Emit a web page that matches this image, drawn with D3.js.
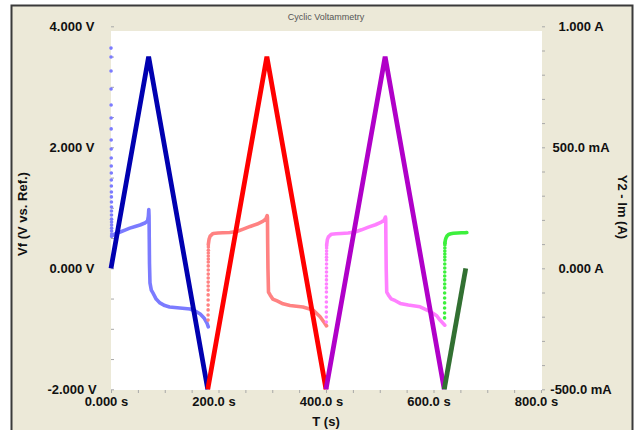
<!DOCTYPE html>
<html>
<head>
<meta charset="utf-8">
<script src="https://cdn.jsdelivr.net/npm/d3@7"></script>
<style>
  body { margin: 0; background: #fff; }
  svg { display: block; }
  text { font-family: "Liberation Sans", Arial, sans-serif; }
</style>
</head>
<body>
<svg id="chart" width="640" height="430"></svg>
<script>
// ---- axis ticks and labels ----
const timeTicks = [0, 200, 400, 600, 800];
const timeTickLabels = ["0.000 s", "200.0 s", "400.0 s", "600.0 s", "800.0 s"];
const voltTicks = [-2, 0, 2, 4];
const voltTickLabels = ["-2.000 V", "0.000 V", "2.000 V", "4.000 V"];
const currentTicks = [-0.5, 0, 0.5, 1];
const currentTickLabels = ["-500.0 mA", "0.000 A", "500.0 mA", "1.000 A"];
const timeMinorTicks = [0,50,100,150,200,250,300,350,400,450,500,550,600,650,700,750,800];
const voltMinorTicks = [-2,-1.5,-1,-0.5,0,0.5,1,1.5,2,2.5,3,3.5,4];
const currentMinorTicks = [-0.5,-0.4,-0.3,-0.2,-0.1,0,0.1,0.2,0.3,0.4,0.5,0.6,0.7,0.8,0.9,1];

// ---- applied potential (Vf) per cycle: vertex times (s) and potentials (V) ----
const cycleNames = ["Cycle 1", "Cycle 2", "Cycle 3", "Cycle 4"];
const vfTimes = [[0, 70, 180], [180, 290, 400], [400, 510, 620], [620, 660]];
const vfValues = [[0, 3.5, -2], [-2, 3.5, -2], [-2, 3.5, -2], [-2, 0]];

// ---- measured current (Im), [time s, current A] ----
// sparse samples right after each switching step
const imStepCycle1 = [[0.00,0.910],[0.05,0.873],[0.10,0.815],[0.15,0.741],[0.20,0.675],[0.25,0.621],[0.30,0.576],
  [0.35,0.530],[0.40,0.493],[0.45,0.456],[0.50,0.423],[0.55,0.394],[0.60,0.365],[0.65,0.340],[0.70,0.315],
  [0.75,0.295],[0.80,0.274],[0.85,0.253],[0.90,0.237],[0.95,0.220],[1.00,0.203],[1.05,0.191],[1.10,0.179],
  [1.15,0.166],[1.20,0.154],[1.25,0.142],[1.30,0.133]];
const imStepCycle2 = [[180.60,-0.214],[180.63,-0.193],[180.66,-0.172],[180.69,-0.152],[180.72,-0.131],[180.75,-0.110],
  [180.78,-0.090],[180.81,-0.073],[180.84,-0.057],[180.87,-0.040],[180.90,-0.024],[180.93,-0.007],[180.96,0.010],
  [180.99,0.026],[181.02,0.038],[181.05,0.051],[181.08,0.063],[181.11,0.075],[181.14,0.088],[181.17,0.096]];
const imStepCycle3 = [[400.60,-0.222],[400.63,-0.201],[400.66,-0.181],[400.69,-0.160],[400.72,-0.139],[400.75,-0.119],
  [400.78,-0.098],[400.81,-0.081],[400.84,-0.065],[400.87,-0.048],[400.90,-0.032],[400.93,-0.015],[400.96,0.001],
  [400.99,0.018],[401.02,0.034],[401.05,0.046],[401.08,0.059],[401.11,0.071],[401.14,0.084],[401.17,0.092]];
const imStepCycle4 = [[620.60,-0.205],[620.63,-0.185],[620.66,-0.164],[620.69,-0.143],[620.72,-0.123],[620.75,-0.102],
  [620.78,-0.081],[620.81,-0.065],[620.84,-0.048],[620.87,-0.032],[620.90,-0.015],[620.93,0.001],[620.96,0.018],
  [620.99,0.034],[621.02,0.047],[621.05,0.059],[621.08,0.071],[621.11,0.084],[621.14,0.096],[621.17,0.104]];
// dense part of each cycle
const imTraceCycle1 = [[1.3,0.133],[7,0.142],[17,0.150],[26,0.158],[35,0.166],[45,0.173],[54,0.179],[63,0.187],
  [68,0.196],[69.5,0.215],[70.3,0.243],[70.8,0.215],[71.2,0.12],[71.6,0.02],[72.5,-0.06],[75,-0.090],[78,-0.102],
  [84,-0.127],[91,-0.143],[100,-0.154],[109,-0.160],[128,-0.164],[147,-0.168],[156,-0.176],[166,-0.189],
  [173,-0.205],[178.5,-0.226],[181,-0.242]];
const imTraceCycle2 = [[181.2,0.100],[182.5,0.121],[184.5,0.133],[190,0.144],[199,0.146],[208,0.147],[221,0.148],
  [234,0.152],[246,0.162],[259,0.173],[272,0.183],[283,0.195],[288,0.204],[290.6,0.218],[291.1,0.21],[291.5,0.1],
  [292,0.0],[293,-0.098],[296,-0.110],[301,-0.127],[309,-0.135],[320,-0.147],[333,-0.154],[357,-0.160],
  [376,-0.172],[389,-0.200],[396,-0.222],[401,-0.238]];
const imTraceCycle3 = [[401.2,0.096],[402.5,0.118],[404.5,0.130],[410,0.141],[419,0.143],[428,0.144],[441,0.146],
  [454,0.150],[466,0.159],[479,0.170],[492,0.180],[503,0.191],[508,0.199],[510.6,0.212],[511.1,0.205],[511.5,0.1],
  [512,0.0],[513,-0.098],[516,-0.110],[521,-0.126],[529,-0.134],[538,-0.145],[553,-0.152],[575,-0.159],
  [594,-0.179],[606,-0.196],[612,-0.214],[621,-0.235]];
const imTraceCycle4 = [[621.2,0.104],[622,0.116],[623,0.124],[625,0.133],[628,0.140],[632,0.143],[637,0.145],
  [645,0.146],[652,0.147],[659,0.147],[662,0.148]];

const vfColors = ["#0000b0", "#ff0000", "#b000c8", "#327032"];
const imColors = ["#7b7bff", "#ff8282", "#ff80ff", "#3cf03c"];

const imSteps = [imStepCycle1, imStepCycle2, imStepCycle3, imStepCycle4];
const imTraces = [imTraceCycle1, imTraceCycle2, imTraceCycle3, imTraceCycle4];

// ---- layout ----
const svg = d3.select("#chart");
const plot = { left: 111, right: 542, top: 31, bottom: 390 };

const x = d3.scaleLinear().domain([0, 800]).range([111, 541]);
const yV = d3.scaleLinear().domain([-2, 4]).range([389.3, 26.3]);
const yI = d3.scaleLinear().domain([-0.5, 1]).range([389.3, 26.3]);

// panel background and frame
svg.append("rect").attr("x", 11.5).attr("y", 5.5).attr("width", 621).attr("height", 440)
  .attr("fill", "#ece9d8").attr("stroke", "#3a3a3a").attr("stroke-width", 2);
svg.append("rect").attr("x", plot.left).attr("y", plot.top)
  .attr("width", plot.right - plot.left).attr("height", plot.bottom - plot.top).attr("fill", "#fff");

svg.append("text").attr("x", 326).attr("y", 20).attr("text-anchor", "middle")
  .attr("font-size", 9).attr("fill", "#555").text("Cyclic Voltammetry");

// minor ticks
const tickStyle = g => { g.select(".domain").remove(); g.selectAll("line").attr("stroke", "#a8a8a8"); };
svg.append("g").attr("transform", `translate(0,${plot.bottom})`)
  .call(d3.axisBottom(x).tickValues(timeMinorTicks).tickSize(3).tickFormat(""))
  .call(tickStyle);
svg.append("g").attr("transform", `translate(${plot.left + 3},0)`)
  .call(d3.axisLeft(yV).tickValues(voltMinorTicks).tickSize(3).tickFormat(""))
  .call(tickStyle);
svg.append("g").attr("transform", `translate(${plot.right},0)`)
  .call(d3.axisRight(yI).tickValues(currentMinorTicks).tickSize(3).tickFormat(""))
  .call(tickStyle);

// labelled axes
const labelStyle = g => {
  g.select(".domain").remove();
  g.selectAll("line").remove();
  g.selectAll("text").attr("font-family", "Liberation Sans, Arial, sans-serif")
    .attr("font-weight", "bold").attr("font-size", 13).attr("fill", "#111");
};
svg.append("g").attr("transform", `translate(0,${plot.bottom})`)
  .call(d3.axisBottom(x).tickValues(timeTicks).tickSize(0).tickFormat((d, i) => timeTickLabels[i]))
  .call(labelStyle)
  .call(g => g.selectAll("text").attr("dx", -5).attr("y", 7));
svg.append("g").attr("transform", `translate(72,0)`)
  .call(d3.axisLeft(yV).tickValues(voltTicks).tickSize(0).tickFormat((d, i) => voltTickLabels[i]))
  .call(labelStyle)
  .call(g => g.selectAll("text").attr("x", 0).attr("text-anchor", "middle"));
svg.append("g").attr("transform", `translate(581,0)`)
  .call(d3.axisRight(yI).tickValues(currentTicks).tickSize(0).tickFormat((d, i) => currentTickLabels[i]))
  .call(labelStyle)
  .call(g => g.selectAll("text").attr("x", 0).attr("text-anchor", "middle"));

// axis titles
svg.append("text").attr("x", 326).attr("y", 426).attr("text-anchor", "middle")
  .attr("font-weight", "bold").attr("font-size", 13).attr("fill", "#111").text("T (s)");
svg.append("text").attr("transform", "translate(27,214) rotate(-90)").attr("text-anchor", "middle")
  .attr("font-weight", "bold").attr("font-size", 13).attr("fill", "#111").text("Vf (V vs. Ref.)");
svg.append("text").attr("transform", "translate(618,207) rotate(90)").attr("text-anchor", "middle")
  .attr("font-weight", "bold").attr("font-size", 13).attr("fill", "#111").text("Y2 - Im (A)");

// ---- series ----
const imLine = d3.line().x(d => x(d[0])).y(d => yI(d[1]));
const vfLine = d3.line().x(d => x(d[0])).y(d => yV(d[1]));

const series = cycleNames.map((name, i) => ({
  name,
  vf: vfTimes[i].map((t, j) => [t, vfValues[i][j]]),
  imStep: imSteps[i],
  imTrace: imTraces[i],
  vfColor: vfColors[i],
  imColor: imColors[i]
}));

const layer = svg.append("g");
series.forEach(s => {
  const g = layer.append("g").attr("class", "current");
  g.append("path").attr("d", imLine(s.imTrace)).attr("fill", "none")
    .attr("stroke", s.imColor).attr("stroke-width", 3.6)
    .attr("stroke-linejoin", "round").attr("stroke-linecap", "round");
  g.selectAll("circle").data(s.imStep).join("circle")
    .attr("cx", d => x(d[0])).attr("cy", d => yI(d[1])).attr("r", 1.8)
    .attr("fill", s.imColor);
});
series.forEach(s => {
  layer.append("path").attr("d", vfLine(s.vf)).attr("fill", "none")
    .attr("stroke", s.vfColor).attr("stroke-width", 4.8)
    .attr("stroke-linejoin", "miter").attr("stroke-linecap", "butt");
});
</script>
</body>
</html>
